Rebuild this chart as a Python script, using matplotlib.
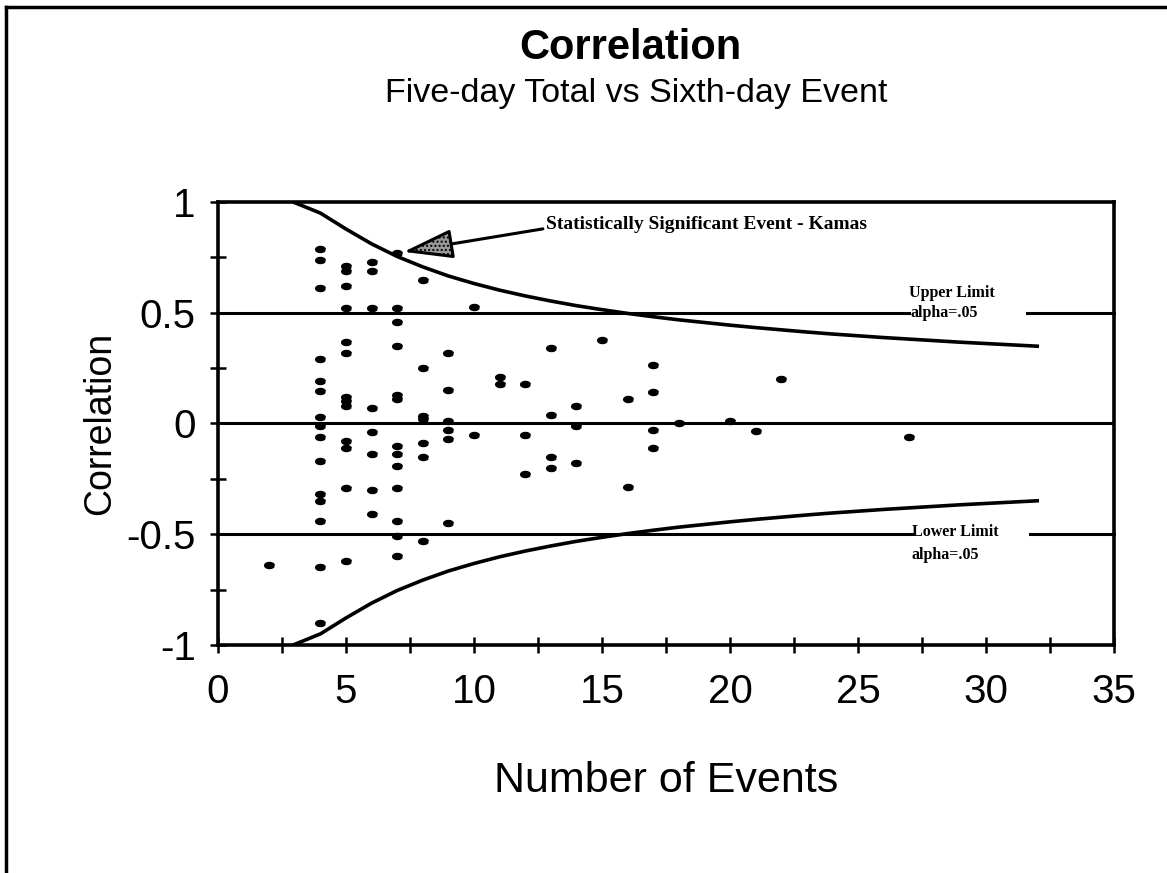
import matplotlib
matplotlib.use("Agg")
import matplotlib.pyplot as plt
from matplotlib.lines import Line2D
import numpy as np

plt.rcParams["font.family"] = ["Liberation Sans", "DejaVu Sans"]

# observed correlations, grouped by number of events
event_n = [2,
           4, 4, 4, 4, 4, 4, 4, 4, 4, 4, 4, 4, 4, 4, 4,
           5, 5, 5, 5, 5, 5, 5, 5, 5, 5, 5, 5, 5,
           6, 6, 6, 6, 6, 6, 6, 6,
           7, 7, 7, 7, 7, 7, 7, 7, 7, 7, 7, 7, 7,
           8, 8, 8, 8, 8, 8, 8,
           9, 9, 9, 9, 9, 9,
           10, 10,
           11, 11,
           12, 12, 12,
           13, 13, 13, 13,
           14, 14, 14,
           15,
           16, 16,
           17, 17, 17, 17,
           18, 20, 21, 22, 27]
event_r = [-0.64,
           0.79, 0.74, 0.61, 0.29, 0.19, 0.145, 0.03, -0.01, -0.06, -0.17, -0.32, -0.35, -0.44, -0.65, -0.90,
           0.71, 0.69, 0.62, 0.52, 0.37, 0.32, 0.12, 0.10, 0.08, -0.08, -0.11, -0.29, -0.62,
           0.73, 0.69, 0.52, 0.07, -0.04, -0.14, -0.30, -0.41,
           0.77, 0.52, 0.46, 0.35, 0.13, 0.11, -0.10, -0.14, -0.19, -0.29, -0.44, -0.51, -0.60,
           0.65, 0.25, 0.035, 0.02, -0.09, -0.15, -0.53,
           0.32, 0.15, 0.01, -0.03, -0.07, -0.45,
           0.525, -0.05,
           0.21, 0.18,
           0.18, -0.05, -0.23,
           0.34, 0.04, -0.15, -0.20,
           0.08, -0.01, -0.18,
           0.375,
           0.11, -0.285,
           0.265, 0.14, -0.03, -0.11,
           0.0, 0.01, -0.035, 0.20, -0.06]

# critical r (alpha=.05)
limit_n = [3, 4, 5, 6, 7, 8, 9, 10, 11, 12, 13, 14, 15, 16, 17, 18, 19, 20,
           21, 22, 23, 24, 25, 26, 27, 28, 29, 30, 31, 32]
limit_r = [0.997, 0.950, 0.878, 0.811, 0.754, 0.707, 0.666, 0.632, 0.602, 0.576,
           0.553, 0.532, 0.514, 0.497, 0.482, 0.468, 0.456, 0.444, 0.433, 0.423,
           0.413, 0.404, 0.396, 0.388, 0.381, 0.374, 0.367, 0.361, 0.355, 0.349]

x_ticks = [0, 5, 10, 15, 20, 25, 30, 35]
y_ticks = [-1, -0.5, 0, 0.5, 1]
y_ticklabels = ["-1", "-0.5", "0", "0.5", "1"]

fig = plt.figure(figsize=(11.67, 8.73), dpi=100)
ax = fig.add_axes([0.1868, 0.2612, 0.7678, 0.5074])
ax.set_xlim(0, 35)
ax.set_ylim(-1, 1)

# reference lines (the +/-0.5 lines are broken where the labels sit)
ax.axhline(0, color="black", lw=2.2)
ax.plot([0, 27.0], [0.5, 0.5], color="black", lw=2.2, clip_on=False)
ax.plot([31.6, 35], [0.5, 0.5], color="black", lw=2.2, clip_on=False)
ax.plot([0, 27.1], [-0.5, -0.5], color="black", lw=2.2, clip_on=False)
ax.plot([31.7, 35], [-0.5, -0.5], color="black", lw=2.2, clip_on=False)

lim_r = np.array(limit_r)
ax.plot(limit_n, lim_r, color="black", lw=2.6)
ax.plot(limit_n, -lim_r, color="black", lw=2.6)

# small flattened dots, as in the scanned original
t = np.linspace(0, 2 * np.pi, 24, endpoint=False)
blob = list(zip(1.6 * np.cos(t), np.sin(t)))
ax.plot(event_n, event_r, ls="none", marker=blob, ms=7, color="black")

serif = ["Liberation Serif", "DejaVu Serif"]
ax.annotate("Statistically Significant Event - Kamas", xy=(7.25, 0.775),
            xytext=(12.8, 0.90), va="center", ha="left", fontsize=14,
            fontweight="bold", family=serif,
            arrowprops=dict(arrowstyle="-|>,head_length=2.2,head_width=0.65",
                            lw=2.2, fc="0.6", ec="black", hatch="....",
                            shrinkA=0, shrinkB=0, relpos=(0.0, 0.25)))
ax.text(27.0, 0.587, "Upper Limit", fontsize=11.5, fontweight="bold",
        family=serif, ha="left", va="center")
ax.text(27.05, 0.5, "alpha=.05", fontsize=11.5, fontweight="bold",
        family=serif, ha="left", va="center")
ax.text(27.1, -0.49, "Lower Limit", fontsize=11.5, fontweight="bold",
        family=serif, ha="left", va="center")
ax.text(27.1, -0.596, "alpha=.05", fontsize=11.5, fontweight="bold",
        family=serif, ha="left", va="center")

for s in ax.spines.values():
    s.set_linewidth(2.6)
ax.set_xticks(x_ticks)
ax.set_xticks(np.arange(0, 35.1, 2.5), minor=True)
ax.set_yticks(y_ticks)
ax.set_yticklabels(y_ticklabels)
ax.set_yticks(np.arange(-1, 1.01, 0.25), minor=True)
ax.tick_params(which="both", direction="inout", length=12, width=1.8,
               labelsize=29, top=False, right=False)
ax.tick_params(axis="x", pad=14)
ax.tick_params(axis="y", pad=10)
ax.set_xlabel("Number of Events", fontsize=31, labelpad=36)
ax.set_ylabel("Correlation", fontsize=27, labelpad=6)

fig.text(0.54, 0.945, "Correlation", ha="center", va="center",
         fontsize=30, fontweight="bold")
fig.text(0.545, 0.893, "Five-day Total vs Sixth-day Event", ha="center",
         va="center", fontsize=24.5)

# page frame (top and left edges)
fig.add_artist(Line2D([0.005, 1.0], [0.992, 0.992], color="black", lw=2.5))
fig.add_artist(Line2D([0.005, 0.005], [0.0, 0.992], color="black", lw=2.5))

fig.savefig("out.png", dpi=100)
